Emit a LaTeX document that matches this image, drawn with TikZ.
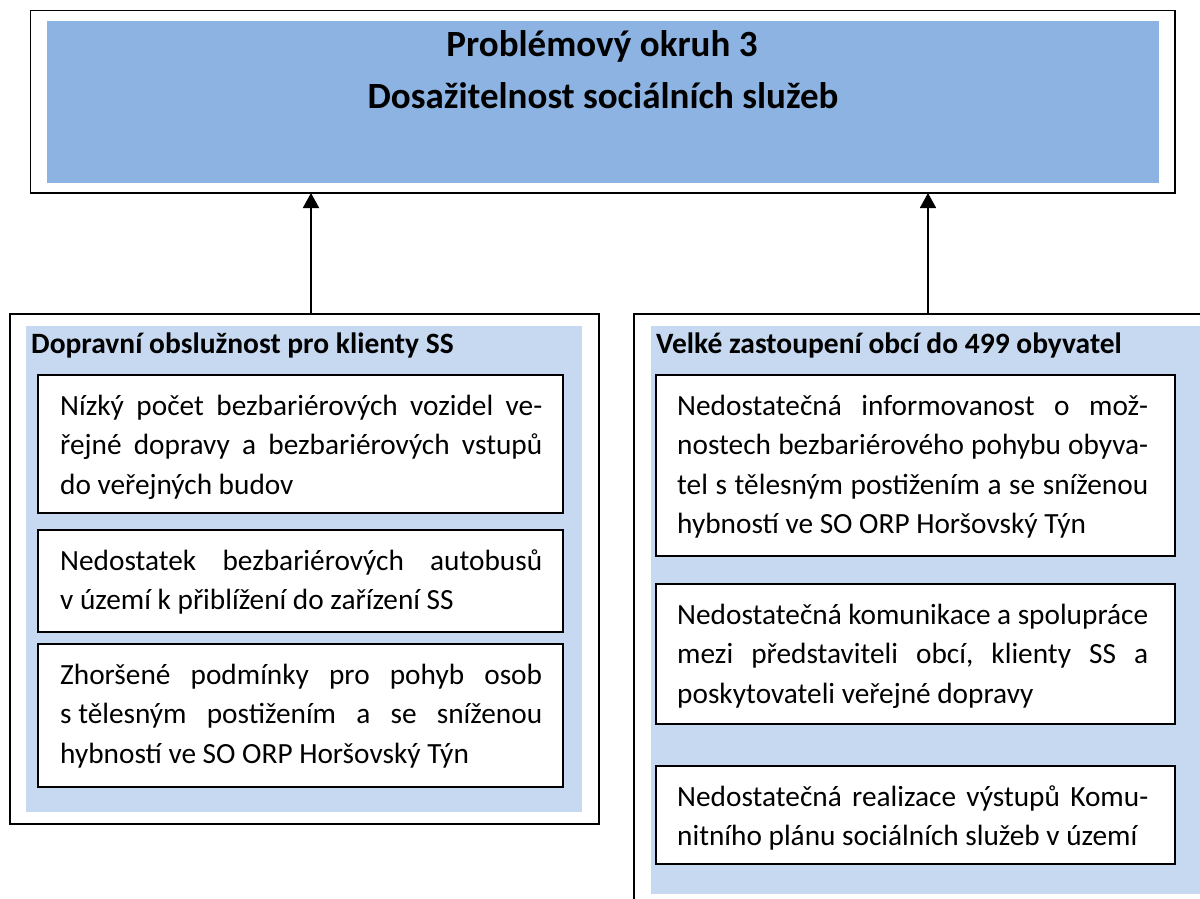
\documentclass[tikz,border=0pt]{standalone}
\usepackage{fontspec}
\setmainfont{Carlito}
\usetikzlibrary{arrows.meta}
\definecolor{darkblue}{RGB}{141,179,226}
\definecolor{lightblue}{RGB}{198,217,241}
\begin{document}
\begin{tikzpicture}[x=1pt,y=-1pt,
  frame/.style={draw=black, line width=1.5pt, fill=white, inner sep=0pt, outer sep=0pt, anchor=north west},
  panel/.style={draw=none, inner sep=0pt, outer sep=0pt, anchor=north west},
  itembox/.style={draw=black, line width=1.5pt, fill=white, inner sep=0pt, outer sep=0pt, anchor=north west},
  itemtext/.style={anchor=north west, inner sep=0pt, align=justify, font=\fontsize{29.3}{39.5}\selectfont},
  head/.style={anchor=base west, inner sep=0pt, font=\fontsize{29.5}{35}\selectfont\bfseries},
  titletext/.style={anchor=base, inner sep=0pt, font=\fontsize{37}{52}\selectfont\bfseries},
  arr/.style={line width=1.8pt, -{Triangle[width=16pt,length=15pt]}}
]
\useasboundingbox (0,0) rectangle (1200,898);
\clip (0,0) rectangle (1200,898);
\fill[white] (0,0) rectangle (1200,898);

% top box
\node[frame, minimum width=1144.5pt, minimum height=182.5pt] (topframe) at (30.5,10.5) {};
\node[panel, fill=darkblue, minimum width=1112pt, minimum height=162pt] (topfill) at (47,21) {};
\node[titletext] (title1) at (602,56) {Problémový okruh 3};
\node[titletext] (title2) at (603,108) {Dosažitelnost sociálních služeb};

% left panel
\node[frame, minimum width=589pt, minimum height=510pt] (leftframe) at (10,314) {};
\node[panel, fill=lightblue, minimum width=556pt, minimum height=486pt] (leftfill) at (26,326) {};
\node[head] (lhead) at (31,353) {Dopravní obslužnost pro klienty SS};

\node[itembox, minimum width=525pt, minimum height=138pt] (l1) at (38,375) {};
\node[itemtext, text width=482pt] (l1t) at (60,387.35)
  {\hyphenpenalty=10000\strut Nízký~počet~bezbariérových~vozidel~ve-\linebreak řejné~dopravy~a~bezbariérových~vstupů\linebreak do~veřejných~budov};

\node[itembox, minimum width=525pt, minimum height=102pt] (l2) at (38,530) {};
\node[itemtext, text width=482pt] (l2t) at (60,542.35)
  {\hyphenpenalty=10000\strut Nedostatek~bezbariérových~autobusů\linebreak v~území~k~přiblížení~do~zařízení~SS};

\node[itembox, minimum width=525pt, minimum height=143pt] (l3) at (38,644) {};
\node[itemtext, text width=482pt] (l3t) at (60,656.35)
  {\hyphenpenalty=10000\strut Zhoršené~podmínky~pro~pohyb~osob\linebreak \mbox{s tělesným}~postižením~a~se~sníženou\linebreak hybností~ve~SO~ORP~Horšovský~Týn};

% right panel
\node[frame, minimum width=600pt, minimum height=620pt] (rightframe) at (634,314) {};
\node[panel, fill=lightblue, minimum width=570pt, minimum height=568pt] (rightfill) at (651,326) {};
\node[head] (rhead) at (656,353) {Velké zastoupení obcí do 499 obyvatel};

\node[itembox, minimum width=519pt, minimum height=181pt] (r1) at (656,375) {};
\node[itemtext, text width=471pt] (r1t) at (677,387.35)
  {\hyphenpenalty=10000\strut Nedostatečná~informovanost~o~mož-\linebreak nostech~bezbariérového~pohybu~obyva-\linebreak tel~s~tělesným~postižením~a~se~sníženou\linebreak hybností~ve~SO~ORP~Horšovský~Týn};

\node[itembox, minimum width=519pt, minimum height=140pt] (r2) at (656,584) {};
\node[itemtext, text width=471pt] (r2t) at (677,596.35)
  {\hyphenpenalty=10000\strut Nedostatečná~komunikace~a~spolupráce\linebreak mezi~představiteli~obcí,~klienty~SS~a\linebreak poskytovateli~veřejné~dopravy};

\node[itembox, minimum width=519pt, minimum height=98pt] (r3) at (656,766) {};
\node[itemtext, text width=471pt] (r3t) at (677,778.35)
  {\hyphenpenalty=10000\strut Nedostatečná~realizace~výstupů~Komu-\linebreak nitního~plánu~sociálních~služeb~v~území};

% arrows
\coordinate (ax1) at (311,0);
\coordinate (ax2) at (928,0);
\draw[arr] (ax1 |- leftframe.north) -- (ax1 |- topframe.south);
\draw[arr] (ax2 |- rightframe.north) -- (ax2 |- topframe.south);
\end{tikzpicture}
\end{document}
